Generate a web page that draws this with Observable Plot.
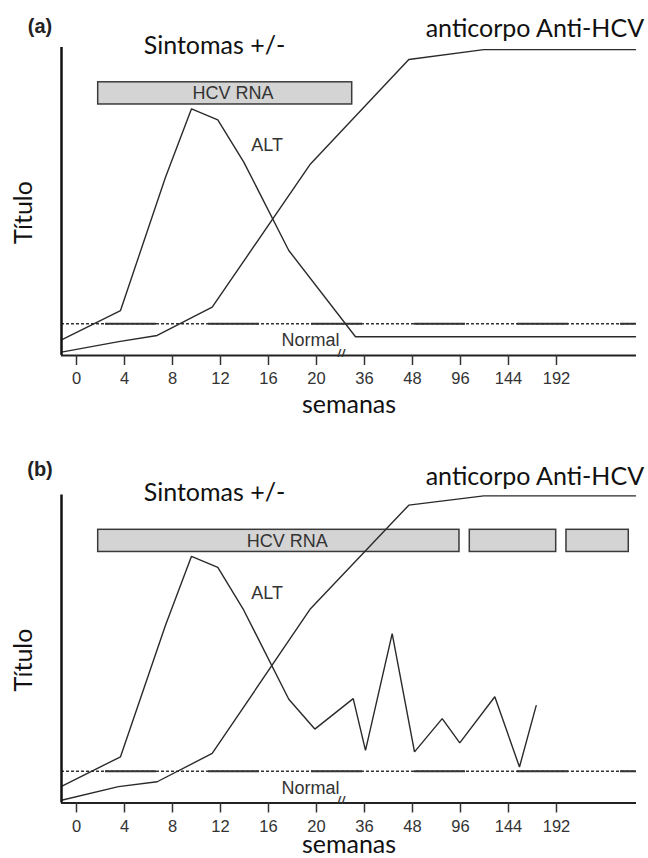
<!DOCTYPE html>
<html><head><meta charset="utf-8">
<script src="https://cdn.jsdelivr.net/npm/d3@7"></script>
<script src="https://cdn.jsdelivr.net/npm/@observablehq/plot@0.6"></script>
<style>
body{margin:0;background:#fff;}
#chart{width:648px;height:858px;overflow:hidden;}
#chart svg{display:block;}
</style></head><body><div id="chart"></div>
<script>
// Broken time axis: tick positions (evenly spaced) and their labels in weeks
const tickPositions = [0,1,2,3,4,5,6,7,8,9,10];
const tickLabels = ["0","4","8","12","16","20","36","48","96","144","192"];
const xDomain = [-0.3125, 11.667];
const normalLevel = 10.3;
const breakPosition = 5.52;
const rnaLow = 81.5, rnaHigh = 88.7;

// Panel (a)
const altXA = [-0.3125, 0.917, 1.854, 2.396, 2.944, 3.485, 4.423, 5.8125, 11.646];
const altYA = [5.1, 14.6, 57.9, 80.1, 76.5, 62.8, 34.1, 6.1, 6.1];
const antiXA = [-0.3125, 0.881, 1.681, 2.827, 4.875, 6.923, 8.485, 11.646];
const antiYA = [1.1, 4.5, 6.5, 15.7, 62.2, 96.1, 99.3, 99.3];
const rnaStartA = [0.452];
const rnaEndA = [5.744];

// Panel (b)
const altXB = [-0.3125, 0.917, 1.854, 2.396, 2.944, 3.485, 4.423, 4.965, 5.765, 6.021, 6.577, 7.042, 7.619, 7.985, 8.715, 9.229, 9.577];
const altYB = [5.4, 15.0, 57.7, 80.1, 76.5, 62.6, 33.7, 24.0, 33.9, 17.1, 55.0, 16.6, 27.4, 19.5, 34.5, 11.7, 31.6];
const antiXB = [-0.3125, 0.875, 1.681, 2.827, 4.875, 6.923, 8.485, 11.646];
const antiYB = [0.9, 5.3, 6.9, 16.1, 63.1, 96.7, 99.7, 99.7];
const rnaStartB = [0.452, 8.194, 10.208];
const rnaEndB = [7.979, 9.994, 11.506];

const SANS = "Liberation Sans, Arial, sans-serif";
const HUMAN = "Lato, Open Sans, sans-serif";

function pts(xs, ys) { return xs.map((x, i) => ({x, y: ys[i]})); }

function panel(c) {
  const lineStyle = {x: "x", y: "y", stroke: "#2a2a2a", strokeWidth: 1.4, strokeLinejoin: "miter"};
  return Plot.plot({
    width: 648, height: c.height,
    marginLeft: 61, marginRight: 12, marginTop: c.top, marginBottom: c.height - c.axisY,
    x: {domain: xDomain},
    y: {domain: [0, 100], axis: null},
    marks: [
      Plot.rect(c.rnaStart.map((s, i) => ({s, e: c.rnaEnd[i]})), {
        x1: "s", x2: "e", y1: rnaLow, y2: rnaHigh, fill: "#d4d4d4", stroke: "#3a3a3a", strokeWidth: 1.5
      }),
      Plot.text(["HCV RNA"], {x: c.rnaTextX, y: 85, fontSize: 18, fontFamily: SANS, fill: "#333"}),
      Plot.ruleY([normalLevel], {stroke: "#333", strokeWidth: 1.4, strokeDasharray: "3,2"}),
      Plot.ruleY([normalLevel], {stroke: "#333", strokeWidth: 2, strokeDasharray: "51,52", strokeDashoffset: 59}),
      Plot.line(pts(c.altX, c.altY), lineStyle),
      Plot.line(pts(c.antiX, c.antiY), lineStyle),
      Plot.ruleX([xDomain[0]], {stroke: "#111", strokeWidth: 2.5}),
      Plot.ruleY([0], {stroke: "#222", strokeWidth: 2}),
      Plot.axisX({ticks: tickPositions, tickFormat: i => tickLabels[i], tickSize: 10, tickPadding: 7,
        fontSize: 16.5, fontFamily: SANS, label: null, stroke: "#333", strokeWidth: 1.5, fill: "#333"}),
      Plot.text(["//"], {x: breakPosition, y: 0.6, fontSize: 10, fontWeight: "bold", fill: "#333"}),
      Plot.text(["Normal"], {x: 4.875, y: 4.9, fontSize: 18, fontFamily: SANS, fill: "#333"}),
      Plot.text(["ALT"], {x: 3.97, y: 68.2, fontSize: 18, fontFamily: SANS, fill: "#333"}),
      Plot.text(["Sintomas +/-"], {x: 2.875, y: 100.5, fontSize: 25, fontFamily: HUMAN, fill: "#111"}),
      Plot.text(["anticorpo Anti-HCV"], {x: 9.55, y: 106, fontSize: 25, fontFamily: HUMAN, fill: "#111"}),
      Plot.text([c.label], {frameAnchor: "top-left", textAnchor: "middle", lineAnchor: "middle",
        dx: -21.5, dy: c.labelDy, fontSize: 20, fontWeight: "bold", fontFamily: SANS, fill: "#222"}),
      Plot.text(["semanas"], {frameAnchor: "bottom", textAnchor: "middle", lineAnchor: "middle",
        dy: c.xLabelDy, fontSize: 25, fontFamily: HUMAN, fill: "#111"}),
      Plot.text(["Título"], {frameAnchor: "left", textAnchor: "middle", lineAnchor: "middle", rotate: -90,
        dx: -38, dy: 11, fontSize: 25, fontFamily: HUMAN, fill: "#111"})
    ]
  });
}

const chart = document.getElementById("chart");
chart.append(panel({
  height: 446, top: 47, axisY: 355, label: "(a)", labelDy: -21, xLabelDy: 49,
  altX: altXA, altY: altYA, antiX: antiXA, antiY: antiYA,
  rnaStart: rnaStartA, rnaEnd: rnaEndA, rnaTextX: 3.26
}));
chart.append(panel({
  height: 412, top: 48.5, axisY: 356.5, label: "(b)", labelDy: -25, xLabelDy: 41.5,
  altX: altXB, altY: altYB, antiX: antiXB, antiY: antiYB,
  rnaStart: rnaStartB, rnaEnd: rnaEndB, rnaTextX: 4.39
}));
</script></body></html>
